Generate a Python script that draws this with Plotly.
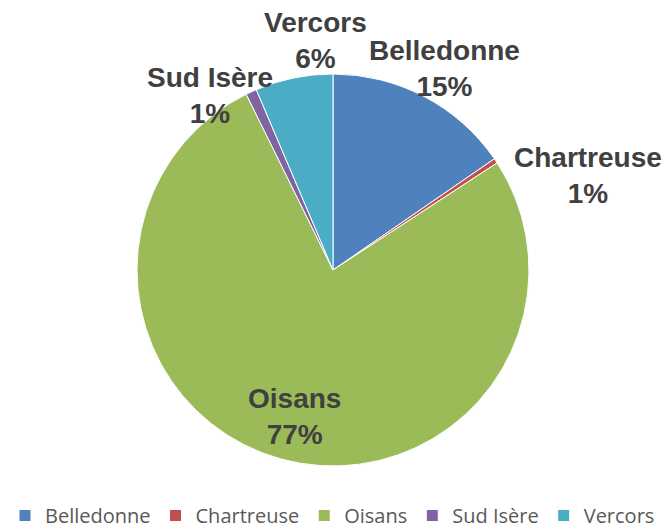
import plotly.graph_objects as go

W, H = 665, 529

# massifs, clockwise from 12 o'clock
massifs = ["Belledonne", "Chartreuse", "Oisans", "Sud Isère", "Vercors"]
shares = [15.4, 0.4, 76.9, 0.9, 6.4]
pct_text = ["15%", "1%", "77%", "1%", "6%"]
colors = ["#4F81BD", "#C0504D", "#9BBB59", "#8064A2", "#4BACC6"]

# label centres in pixels
label_xy = [(444, 68), (588, 175), (294, 416), (210, 96), (315, 41)]

# pie centre / radius in pixels
cx, cy, r = 333, 270, 196

fig = go.Figure(go.Pie(
    labels=massifs,
    values=shares,
    sort=False,
    direction="clockwise",
    rotation=0,
    textinfo="none",
    hoverinfo="label+percent",
    marker=dict(colors=colors, line=dict(color="white", width=1)),
    domain=dict(x=[(cx - r) / W, (cx + r) / W],
                y=[(H - cy - r) / H, (H - cy + r) / H]),
))

for name, pct, (px, py) in zip(massifs, pct_text, label_xy):
    fig.add_annotation(
        x=px / W, y=1 - py / H, xref="paper", yref="paper",
        text=f"<b>{name}<br>{pct}</b>", showarrow=False,
        xanchor="center", yanchor="middle", align="center",
        font=dict(family="Liberation Sans, Arial, sans-serif", size=28, color="#404040"),
    )

fig.update_layout(
    width=W, height=H,
    # no auto-expansion: the legend must not shrink the pie
    margin=dict(l=0, r=0, t=0, b=0, autoexpand=False),
    paper_bgcolor="white",
    plot_bgcolor="white",
    showlegend=True,
    legend=dict(
        orientation="h",
        x=0.5, xanchor="center",
        y=-6 / H, yanchor="bottom",
        font=dict(family="Open Sans, sans-serif", size=20, color="#595959"),
        traceorder="normal",
    ),
)

# drop the default body margin so the figure sits flush in the window
fig.write_html("out.html",
               config={"displayModeBar": False},
               post_script="document.body.style.margin='0';document.body.style.overflow='hidden';")
